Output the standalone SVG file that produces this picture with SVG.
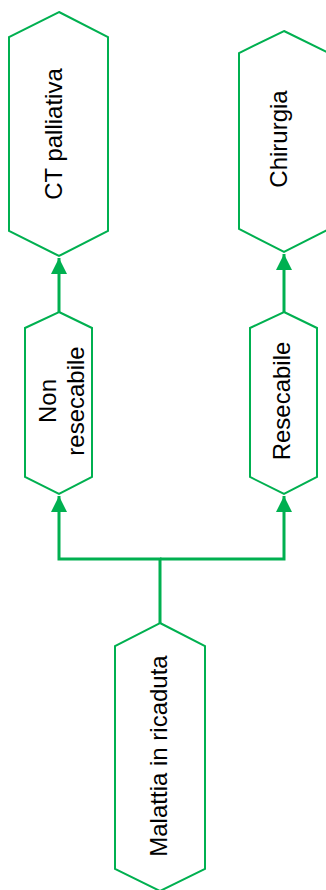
<svg xmlns="http://www.w3.org/2000/svg" width="326" height="890" viewBox="0 0 326 890">
<style>
.n{fill:#fff;stroke:#00B050;stroke-width:2}
.t{font-family:"Liberation Sans",Arial,sans-serif;font-size:24px;fill:#000;text-anchor:middle}
.c{fill:none;stroke:#00B050;stroke-width:3}
</style>
<defs>
<marker id="ah" markerUnits="userSpaceOnUse" markerWidth="16" markerHeight="16" viewBox="0 0 16 16" refX="16" refY="8" orient="auto">
<path d="M0,0 L16,8 L0,16 Z" fill="#00B050"/>
</marker>
</defs>
<g id="connectors">
<path class="c" d="M59,312 L59,258" marker-end="url(#ah)"/>
<path class="c" d="M284,312 L284,254" marker-end="url(#ah)"/>
<path class="c" d="M160,623 L160,559 L59,559 L59,496" marker-end="url(#ah)"/>
<path class="c" d="M160,559 L284,559 L284,496" marker-end="url(#ah)"/>
</g>
<g id="ct">
<polygon class="n" points="59,12 108,37 108,231 59,256 9,231 9,37"/>
<text class="t" transform="translate(62,134) rotate(-90)">CT palliativa</text>
</g>
<g id="chirurgia">
<polygon class="n" points="284,31 329,53 329,229 284,252 239,229 239,53"/>
<text class="t" transform="translate(287,139) rotate(-90)">Chirurgia</text>
</g>
<g id="non">
<polygon class="n" points="59,312 92,328 92,477 59,494 25,477 25,328"/>
<text class="t" transform="translate(56,401) rotate(-90)">Non</text>
<text class="t" transform="translate(84,401) rotate(-90)">resecabile</text>
</g>
<g id="res">
<polygon class="n" points="284,312 317,328 317,477 284,494 250,477 250,328"/>
<text class="t" transform="translate(290,401) rotate(-90)">Resecabile</text>
</g>
<g id="malattia">
<polygon class="n" points="160,623 205,646 205,869 160,891 115,869 115,646"/>
<text class="t" transform="translate(167,756) rotate(-90)">Malattia in ricaduta</text>
</g>
</svg>
